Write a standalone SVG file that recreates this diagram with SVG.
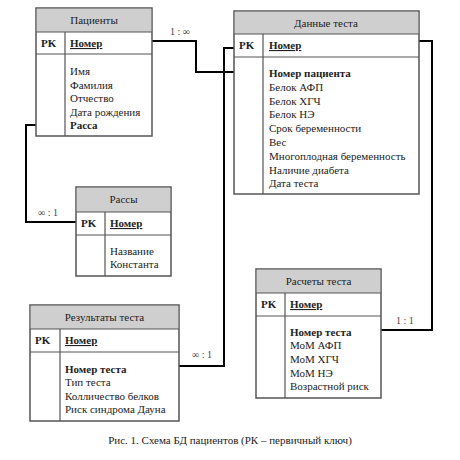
<svg xmlns="http://www.w3.org/2000/svg" width="460" height="460" viewBox="0 0 460 460" font-family="'Liberation Serif', 'DejaVu Serif', serif">
<style>
text{font-family:'Liberation Serif','DejaVu Serif',serif;font-size:11px;fill:#222}
.hd{fill:#cfcfcf;stroke:none}
.box{fill:#fff;stroke:#555;stroke-width:1.5}
.ln{stroke:#555;stroke-width:1.2}
.b{font-weight:bold}
.u{font-weight:bold;text-decoration:underline}
.t{text-anchor:middle}
.c{fill:none;stroke:#000;stroke-width:2}
.lb{font-size:10px;fill:#444}
</style>
<rect width="460" height="460" fill="#fff"/>
<g id="connectors">
<polyline class="c" points="152,41 196,41 196,72 234,72"/>
<polyline class="c" points="234,48 224,48 224,366 179,366"/>
<polyline class="c" points="36,125 26,125 26,222 76,222"/>
<polyline class="c" points="419,41 432,41 432,330 381,330"/>
<text class="lb" x="170" y="35">1 : ∞</text>
<text class="lb" x="38" y="216">∞ : 1</text>
<text class="lb" x="192" y="358">∞ : 1</text>
<text class="lb" x="396" y="324">1 : 1</text>
</g>
<g id="patients">
<rect class="box" x="36" y="8" width="116" height="128"/>
<rect class="hd" x="36.8" y="8.8" width="114.4" height="23.2"/>
<line class="ln" x1="36" y1="32" x2="152" y2="32"/>
<line class="ln" x1="36" y1="54" x2="152" y2="54"/>
<line class="ln" x1="65" y1="32" x2="65" y2="136"/>
<text class="t" x="94" y="24">Пациенты</text>
<text class="b" x="41" y="47">PK</text>
<text class="u" x="70" y="47">Номер</text>
<text x="70" y="75">Имя</text>
<text x="70" y="88.5">Фамилия</text>
<text x="70" y="102">Отчество</text>
<text x="70" y="115.5">Дата рождения</text>
<text class="b" x="70" y="129">Расса</text>
</g>
<g id="test-data">
<rect class="box" x="234" y="11" width="185" height="183"/>
<rect class="hd" x="234.8" y="11.8" width="183.4" height="22.2"/>
<line class="ln" x1="234" y1="34" x2="419" y2="34"/>
<line class="ln" x1="234" y1="57" x2="419" y2="57"/>
<line class="ln" x1="263" y1="34" x2="263" y2="194"/>
<text class="t" x="326" y="27">Данные теста</text>
<text class="b" x="239" y="49">PK</text>
<text class="u" x="269" y="49">Номер</text>
<text class="b" x="269" y="77">Номер пациента</text>
<text x="269" y="91">Белок АФП</text>
<text x="269" y="104.5">Белок ХГЧ</text>
<text x="269" y="118">Белок НЭ</text>
<text x="269" y="132">Срок беременности</text>
<text x="269" y="146">Вес</text>
<text x="269" y="160">Многоплодная беременность</text>
<text x="269" y="173.5">Наличие диабета</text>
<text x="269" y="187">Дата теста</text>
</g>
<g id="races">
<rect class="box" x="76" y="187" width="95" height="89"/>
<rect class="hd" x="76.8" y="187.8" width="93.4" height="24.2"/>
<line class="ln" x1="76" y1="212" x2="171" y2="212"/>
<line class="ln" x1="76" y1="235" x2="171" y2="235"/>
<line class="ln" x1="105" y1="212" x2="105" y2="276"/>
<text class="t" x="123.5" y="203">Рассы</text>
<text class="b" x="81" y="227">PK</text>
<text class="u" x="110" y="227">Номер</text>
<text x="110" y="255">Название</text>
<text x="110" y="268">Константа</text>
</g>
<g id="test-calc">
<rect class="box" x="256" y="269" width="125" height="129"/>
<rect class="hd" x="256.8" y="269.8" width="123.4" height="23.2"/>
<line class="ln" x1="256" y1="293" x2="381" y2="293"/>
<line class="ln" x1="256" y1="316" x2="381" y2="316"/>
<line class="ln" x1="285" y1="293" x2="285" y2="398"/>
<text class="t" x="318.5" y="285">Расчеты теста</text>
<text class="b" x="261" y="308">PK</text>
<text class="u" x="290" y="308">Номер</text>
<text class="b" x="290" y="335.5">Номер теста</text>
<text x="290" y="349">МоМ АФП</text>
<text x="290" y="363">МоМ ХГЧ</text>
<text x="290" y="377">МоМ НЭ</text>
<text x="290" y="390">Возрастной риск</text>
</g>
<g id="test-results">
<rect class="box" x="30" y="305" width="149" height="116"/>
<rect class="hd" x="30.8" y="305.8" width="147.4" height="23.2"/>
<line class="ln" x1="30" y1="329" x2="179" y2="329"/>
<line class="ln" x1="30" y1="352" x2="179" y2="352"/>
<line class="ln" x1="60" y1="329" x2="60" y2="421"/>
<text class="t" x="104.5" y="321">Результаты теста</text>
<text class="b" x="35" y="344">PK</text>
<text class="u" x="65" y="344">Номер</text>
<text class="b" x="65" y="373">Номер теста</text>
<text x="65" y="386">Тип теста</text>
<text x="65" y="400">Колличество белков</text>
<text x="65" y="413">Риск синдрома Дауна</text>
</g>
<text x="230" y="444" class="t">Рис. 1. Схема БД пациентов (РК – первичный ключ)</text>
</svg>
